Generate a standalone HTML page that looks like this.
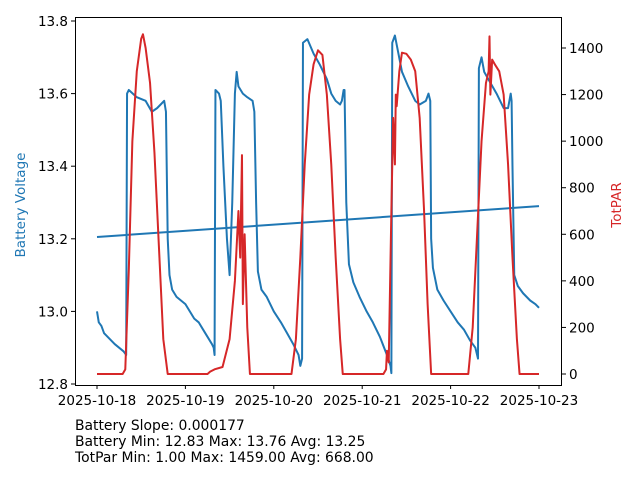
<!DOCTYPE html>
<html><head><meta charset="utf-8"><style>
body{margin:0;background:#fff;}
svg text{font-family:"DejaVu Sans","Liberation Sans",sans-serif;}
</style></head><body>
<svg id="chart" width="640" height="480" viewBox="0 0 640 480" xmlns="http://www.w3.org/2000/svg">
<rect width="640" height="480" fill="#fff"/>
<g id="plot"></g>
<rect x="75.5" y="17.5" width="486" height="368" fill="none" stroke="#000" stroke-width="1"/>
<text transform="translate(25,205) rotate(-90)" text-anchor="middle" font-size="13.5" fill="#1f77b4">Battery Voltage</text>
<text transform="translate(621,205) rotate(-90)" text-anchor="middle" font-size="13.5" fill="#d62728">TotPAR</text>
<text x="75" y="430" font-size="13.9">Battery Slope: 0.000177</text>
<text x="75" y="446" font-size="13.9">Battery Min: 12.83 Max: 13.76 Avg: 13.25</text>
<text x="75" y="462" font-size="13.9">TotPar Min: 1.00 Max: 1459.00 Avg: 668.00</text>
</svg>
<script>
const xTickLabels=["2025-10-18","2025-10-19","2025-10-20","2025-10-21","2025-10-22","2025-10-23"];
const leftTicks=[12.8,13.0,13.2,13.4,13.6,13.8];
const rightTicks=[0,200,400,600,800,1000,1200,1400];
const batT=[0,0.02,0.05,0.08,0.12,0.16,0.2,0.25,0.3,0.33,0.34,0.36,0.45,0.55,0.62,0.68,0.72,0.76,0.78,0.8,0.82,0.85,0.9,0.95,1.0,1.05,1.1,1.15,1.2,1.25,1.3,1.32,1.33,1.34,1.38,1.4,1.43,1.47,1.5,1.53,1.56,1.58,1.6,1.65,1.7,1.76,1.78,1.8,1.82,1.86,1.92,2.0,2.08,2.15,2.22,2.28,2.3,2.32,2.33,2.38,2.45,2.52,2.6,2.65,2.7,2.75,2.77,2.79,2.8,2.82,2.85,2.9,2.97,3.05,3.12,3.2,3.28,3.32,3.33,3.34,3.37,3.45,3.52,3.6,3.65,3.72,3.75,3.77,3.78,3.8,3.85,3.92,4.0,4.08,4.15,4.22,4.28,4.3,4.31,4.32,4.35,4.38,4.45,4.52,4.6,4.65,4.68,4.69,4.7,4.72,4.76,4.82,4.9,4.96,5.0];
const batV=[13.0,12.97,12.96,12.94,12.93,12.92,12.91,12.9,12.89,12.88,13.6,13.61,13.59,13.58,13.55,13.56,13.57,13.58,13.55,13.2,13.1,13.06,13.04,13.03,13.02,13.0,12.98,12.97,12.95,12.93,12.91,12.9,12.88,13.61,13.6,13.58,13.4,13.2,13.1,13.3,13.6,13.66,13.62,13.6,13.59,13.58,13.55,13.3,13.11,13.06,13.04,13.0,12.97,12.94,12.91,12.88,12.85,12.87,13.74,13.75,13.71,13.68,13.64,13.6,13.58,13.57,13.58,13.61,13.61,13.3,13.13,13.08,13.04,13.0,12.97,12.93,12.88,12.85,12.83,13.74,13.76,13.66,13.62,13.58,13.57,13.58,13.6,13.58,13.2,13.12,13.06,13.03,13.0,12.97,12.95,12.92,12.9,12.88,12.87,13.67,13.7,13.66,13.63,13.6,13.56,13.56,13.6,13.58,13.4,13.1,13.07,13.05,13.03,13.02,13.01];
const parT=[0,0.29,0.32,0.36,0.4,0.45,0.5,0.52,0.55,0.6,0.65,0.7,0.75,0.8,1.0,1.25,1.28,1.33,1.42,1.5,1.56,1.6,1.62,1.64,1.65,1.67,1.7,1.73,2.0,2.2,2.25,2.3,2.35,2.4,2.45,2.5,2.55,2.6,2.65,2.7,2.75,2.78,3.0,3.24,3.27,3.28,3.3,3.33,3.35,3.37,3.38,3.39,3.42,3.45,3.5,3.55,3.6,3.65,3.7,3.74,3.78,4.0,4.2,4.25,4.3,4.35,4.4,4.43,4.44,4.45,4.47,4.5,4.55,4.6,4.65,4.7,4.75,4.78,5.0];
const parV=[0,0,20,450,1000,1300,1440,1459,1400,1250,950,550,150,0,0,0,10,20,30,150,400,700,500,940,300,600,200,0,0,0,150,500,900,1200,1330,1390,1370,1200,900,500,150,0,0,0,20,100,50,700,1100,900,1200,1150,1300,1380,1375,1350,1300,1100,700,300,0,0,0,200,600,1000,1250,1300,1450,1200,1350,1330,1300,1200,900,500,150,0,0];
const trendDays=[0,5];
const trendV=[13.205,13.29];

const NS="http://www.w3.org/2000/svg";
const plot=document.getElementById('plot');
const svg=document.getElementById('chart');
const xs=d=>97+d*88.4;
const yL=v=>384-(v-12.8)*363;
const yR=p=>374-p*(326/1400);
function mk(tag,attrs,parent){const e=document.createElementNS(NS,tag);for(const k in attrs)e.setAttribute(k,attrs[k]);(parent||svg).appendChild(e);return e;}

xTickLabels.forEach((t,i)=>{
  const l=mk('line',{x1:xs(i),x2:xs(i),y1:385.5,y2:389,stroke:'#000'});
  
  
  const tx=mk('text',{x:xs(i),y:405,'text-anchor':'middle','font-size':'13.5'});
  tx.textContent=t;
  
  
});
leftTicks.forEach(v=>{
  const l=mk('line',{x1:71,x2:75.5,y1:yL(v),y2:yL(v),stroke:'#000'});
  
  
  const tx=mk('text',{x:68,y:yL(v)+5,'text-anchor':'end','font-size':'13.5'});
  tx.textContent=v.toFixed(1);
  
  
});
rightTicks.forEach(v=>{
  const l=mk('line',{x1:561.5,x2:566,y1:yR(v),y2:yR(v),stroke:'#000'});
  
  
  const tx=mk('text',{x:569,y:yR(v)+5,'text-anchor':'start','font-size':'13.5'});
  tx.textContent=String(v);
  
  
});
const bp=mk('polyline',{points:batT.map((d,i)=>xs(d)+','+yL(batV[i])).join(' '),fill:'none',stroke:'#1f77b4','stroke-width':2,'stroke-linejoin':'round'},plot);


const tl=mk('polyline',{points:trendDays.map((d,i)=>xs(d)+','+yL(trendV[i])).join(' '),fill:'none',stroke:'#1f77b4','stroke-width':2},plot);


const pp=mk('polyline',{points:parT.map((d,i)=>xs(d)+','+yR(parV[i])).join(' '),fill:'none',stroke:'#d62728','stroke-width':2,'stroke-linejoin':'round'},plot);


</script>
</body></html>
